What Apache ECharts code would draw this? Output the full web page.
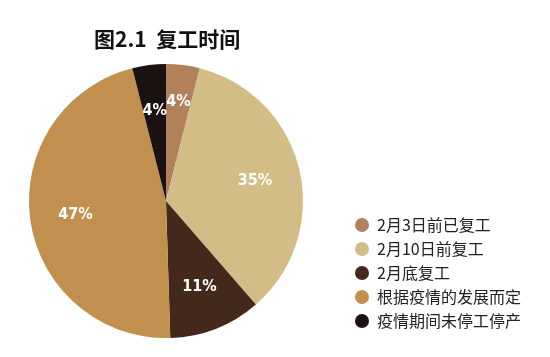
<!DOCTYPE html>
<html><head><meta charset="utf-8">
<script src="https://cdn.jsdelivr.net/npm/echarts@6/dist/echarts.min.js"></script>
<style>html,body{margin:0;padding:0;background:#fff}#c{width:550px;height:357px}</style>
</head><body><div id="c"></div>
<script>
const titleText = '图2.1  复工时间';
const categories = ['2月3日前已复工', '2月10日前复工', '2月底复工', '根据疫情的发展而定', '疫情期间未停工停产'];
const values = [4, 35, 11, 47, 4];
const colors = ['#b3805c', '#d3bd87', '#43291c', '#c1904f', '#1b1212'];

const chart = echarts.init(document.getElementById('c'), null, {renderer: 'canvas'});
const pieData = categories.map((n, i) => ({name: n, value: values[i], itemStyle: {color: colors[i]}}));
const labelData = categories.map((n, i) => ({
  name: n, value: values[i],
  label: i === 0 ? {offset: [1, -9]} : {}
}));
chart.setOption({
  animation: false,
  backgroundColor: '#fff',
  title: {
    text: titleText, left: 89, top: 24,
    textStyle: {fontFamily: 'Noto Sans CJK SC', fontWeight: 'bold', fontSize: 21, color: '#111'}
  },
  legend: {
    orient: 'vertical', left: 350, top: 212,
    icon: 'circle', itemWidth: 14, itemHeight: 14, itemGap: 8,
    data: categories,
    textStyle: {fontFamily: 'Noto Sans CJK SC', fontSize: 16, color: '#222', lineHeight: 16, padding: [0, 0, 0, 3]}
  },
  series: [
    {
      type: 'pie', center: [166, 201], radius: [0, 137], startAngle: 90,
      label: {show: false}, labelLine: {show: false}, silent: true,
      data: pieData
    },
    {
      type: 'pie', center: [166, 202], radius: [40, 137], startAngle: 90,
      itemStyle: {color: 'rgba(0,0,0,0)'}, silent: true, legendHoverLink: false,
      avoidLabelOverlap: false,
      labelLayout: {hideOverlap: false},
      label: {
        show: true, position: 'inside', formatter: '{c}%',
        fontFamily: "'DejaVu Sans Condensed', 'Liberation Sans Narrow', sans-serif", fontWeight: 'bold', fontSize: 16, color: '#fff'
      },
      labelLine: {show: false},
      data: labelData
    }
  ]
});
</script></body></html>
